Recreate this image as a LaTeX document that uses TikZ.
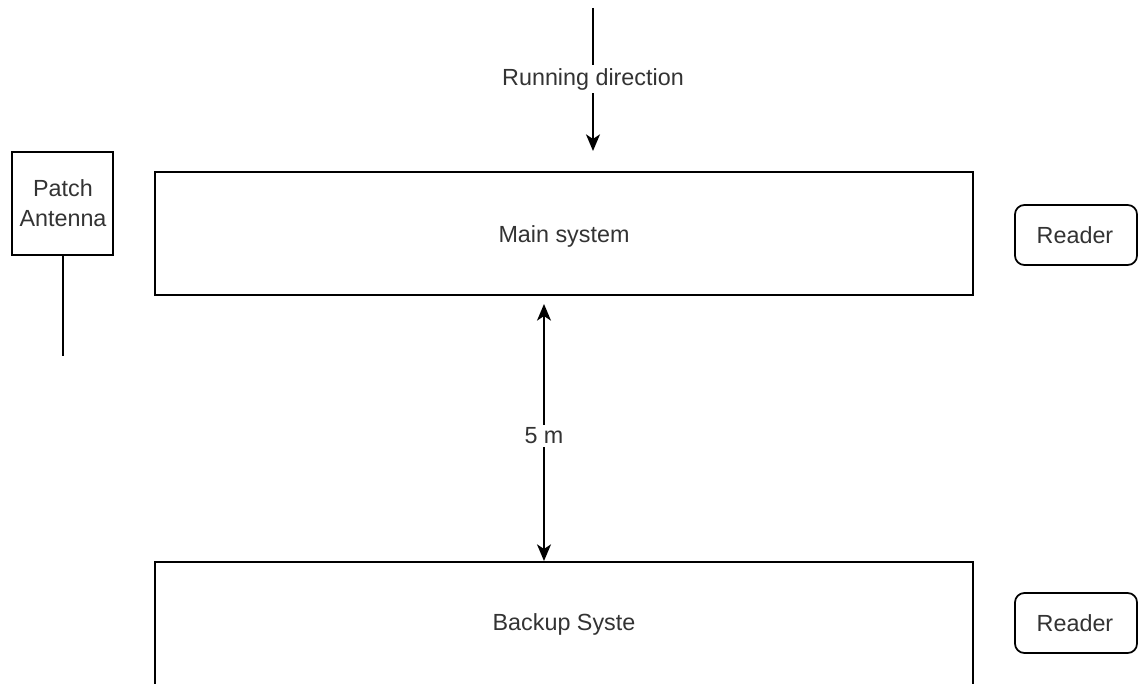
\documentclass[tikz,border=0pt]{standalone}
\usepackage{fontspec}
\setmainfont{Liberation Sans}
\usetikzlibrary{arrows.meta}
\begin{document}
\begin{tikzpicture}[x=0.75pt,y=-0.75pt,
  every node/.style={font=\fontsize{17.5pt}{21pt}\selectfont, text=black!80, inner sep=0pt},
  box/.style={draw=black, line width=1.3pt, fill=white},
  rbox/.style={draw=black, line width=1.3pt, rounded corners=7pt, fill=white},
  conn/.style={draw=black, line width=1.2pt},
  tip/.tip={Stealth[length=12.5pt,width=10.5pt,inset=3.5pt]},
  arr/.style={-tip},
  darr/.style={tip-tip},
  lbl/.style={fill=white, inner sep=2pt}]
\useasboundingbox (0,0) rectangle (1139,684);
% boxes
\path[box] (155,172) rectangle (973,295);
\node (main) at (564,236) {Main system};
\path[box] (155,562) rectangle (973,686);
\node (backup) at (564,624) {Backup Syste};
\path[box] (12,152) rectangle (113,255);
\node[align=center, font=\fontsize{17.5pt}{23pt}\selectfont] (patch) at (63,203) {Patch\\Antenna};
\coordinate (patchB) at (63,255);
\coordinate (patchE) at (63,356);
\path[rbox] (1015,205) rectangle (1137,265);
\node (r1) at (1075,235) {Reader};
\path[rbox] (1015,593) rectangle (1137,653);
\node (r2) at (1075,623) {Reader};
% running direction
\coordinate (rdS) at (593,8);
\coordinate (rdE) at (593,151);
\draw[conn, arr] (rdS) -- (rdE);
\node[lbl] (rd) at (593,79) {Running direction};
% antenna stem
\draw[conn] (patchB) -- (patchE);
% 5 m
\coordinate (dT) at (544,304);
\coordinate (dB) at (544,561);
\draw[conn, darr] (dT) -- (dB);
\node[lbl] (dist) at (544,436) {5 m};
\end{tikzpicture}
\end{document}
